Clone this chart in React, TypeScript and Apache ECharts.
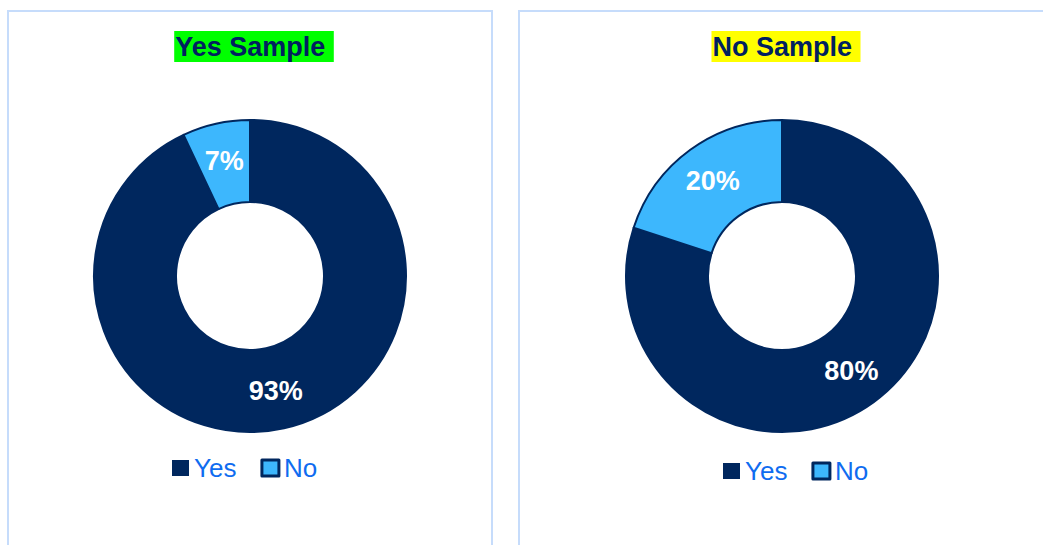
import React, { useEffect, useRef } from "react";
import * as echarts from "echarts";

const categories = ["Yes", "No"];
const yesSampleValues = [93, 7];
const noSampleValues = [80, 20];
const chartTitles = ["Yes Sample ", "No Sample "];

const DARK = "#00275e";
const LIGHT = "#3db7fd";
const FONT = "'Liberation Sans', Arial, sans-serif";

export default function App() {
  const ref = useRef<HTMLDivElement>(null);
  useEffect(() => {
    if (!ref.current) return;
    const chart = echarts.init(ref.current, undefined, { renderer: "svg" });
    const mkData = (vals: number[]) =>
      categories.map((c, i) => ({
        name: c,
        value: vals[i],
        itemStyle: {
          color: i === 0 ? DARK : LIGHT,
          borderColor: DARK,
          borderWidth: 2,
        },
      }));
    const mkSeries = (vals: number[], cx: number) => ({
      type: "pie",
      center: [cx, 276],
      radius: [74, 156],
      startAngle: 90,
      clockwise: true,
      avoidLabelOverlap: false,
      label: {
        show: true,
        position: "inside",
        formatter: "{c}%",
        color: "#ffffff",
        fontSize: 27,
        fontWeight: "bold",
        fontFamily: FONT,
      },
      labelLine: { show: false },
      emphasis: { disabled: true },
      data: mkData(vals),
    });
    const mkTitle = (text: string, cx: number) => ({
      text,
      left: cx,
      top: 31,
      textAlign: "center",
      backgroundColor: cx < 500 ? "#00ff00" : "#ffff00",
      padding: [2, 1, 2, 1],
      textStyle: {
        color: "#002060",
        fontSize: 27,
        fontWeight: "bold",
        fontFamily: FONT,
        lineHeight: 27,
      },
    });
    const mkLegend = (left: number, top: number) => ({
      left,
      top,
      padding: 0,
      orient: "horizontal",
      data: [
        { name: categories[0], itemStyle: { borderWidth: 0 } },
        { name: categories[1], itemStyle: { borderWidth: 3, borderColor: DARK } },
      ],
      itemWidth: 17,
      itemHeight: 16,
      itemGap: 24,
      icon: "rect",
      selectedMode: false,
      textStyle: {
        color: "#0f6cf0",
        fontSize: 26,
        fontFamily: FONT,
      },
    });
    chart.setOption({
      animation: false,
      backgroundColor: "#ffffff",
      title: [mkTitle(chartTitles[0], 253), mkTitle(chartTitles[1], 785)],
      legend: [mkLegend(172, 455), mkLegend(723, 458)],
      graphic: [
        {
          type: "rect",
          shape: { x: 8, y: 11, width: 484, height: 560 },
          style: { fill: "none", stroke: "#c6dcfb", lineWidth: 2 },
          silent: true,
        },
        {
          type: "rect",
          shape: { x: 519, y: 11, width: 560, height: 560 },
          style: { fill: "none", stroke: "#c6dcfb", lineWidth: 2 },
          silent: true,
        },
      ],
      series: [mkSeries(yesSampleValues, 250), mkSeries(noSampleValues, 782)],
    } as any);
    return () => chart.dispose();
  }, []);
  return (
    <div
      ref={ref}
      style={{ position: "fixed", left: 0, top: 0, width: 1043, height: 545 }}
    />
  );
}
